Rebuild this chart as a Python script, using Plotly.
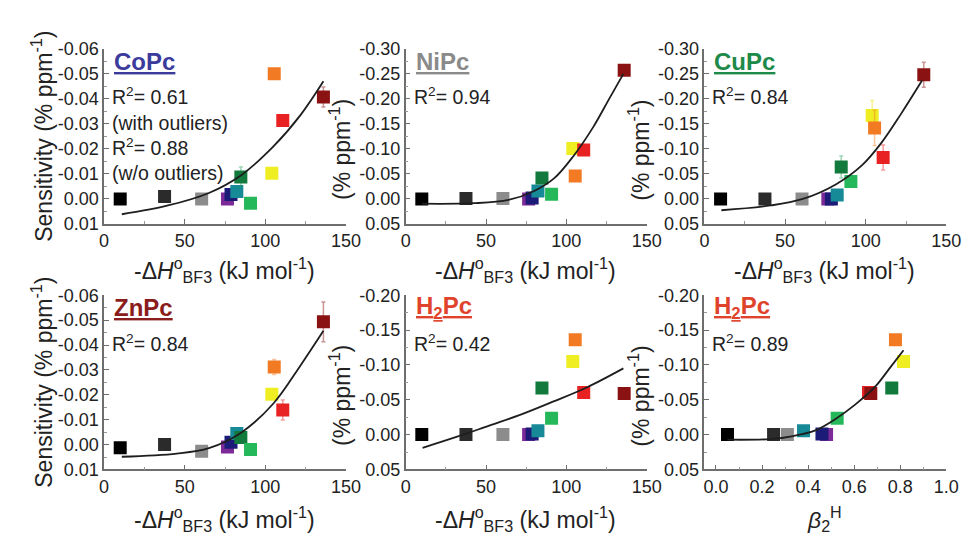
import plotly.graph_objects as go

# ---------------- data ----------------
point_colors = ["#000000", "#2b2b2b", "#8c8c8c", "#7b2a98", "#1c1c78", "#168a96",
                "#117a3c", "#25b85a", "#eeee22", "#f27a22", "#e82222", "#8a1212"]
err_colors = ["rgba(0,0,0,0.35)", "rgba(40,40,40,0.35)", "rgba(140,140,140,0.4)", "rgba(123,42,152,0.4)",
              "rgba(28,28,120,0.4)", "rgba(22,138,150,0.4)", "rgba(40,160,90,0.45)", "rgba(37,184,90,0.4)",
              "rgba(240,230,60,0.55)", "rgba(242,122,34,0.45)", "rgba(232,34,34,0.45)", "rgba(138,18,18,0.45)"]

dH_bf3 = [10, 37.5, 60.5, 76.5, 78.7, 82.3, 84.8, 90.8, 104, 105.5, 110.8, 136]
beta2H = [0.05, 0.25, 0.31, 0.48, 0.46, 0.38, 0.763, 0.526, 0.814, 0.779, 0.662, 0.672]

sens_CoPc = [0.000, -0.001, 0.000, 0.000, -0.0018, -0.003, -0.0088, 0.0017, -0.0103, -0.050, -0.0314, -0.0407]
sens_NiPc = [0.000, -0.001, -0.001, 0.000, -0.002, -0.016, -0.042, -0.0096, -0.101, -0.046, -0.098, -0.257]
sens_CuPc = [0.000, 0.000, 0.000, 0.000, 0.000, -0.0077, -0.064, -0.035, -0.1665, -0.142, -0.083, -0.248]
sens_ZnPc = [0.0013, 0.000, 0.0027, 0.001, -0.0009, -0.0044, -0.0028, 0.002, -0.0202, -0.0312, -0.0139, -0.0493]
sens_H2Pc = [0.000, 0.000, 0.000, 0.000, -0.001, -0.0055, -0.067, -0.0234, -0.105, -0.136, -0.0606, -0.059]

err_CoPc = [0, 0, 0, 0, 0, 0, 0.004, 0, 0, 0.002, 0, 0.004]
err_NiPc = [0, 0, 0, 0, 0, 0, 0.008, 0, 0.005, 0, 0.01, 0.01]
err_CuPc = [0, 0, 0, 0, 0, 0, 0.022, 0, 0.03, 0.035, 0.025, 0.025]
err_ZnPc = [0, 0, 0, 0, 0, 0, 0, 0, 0.002, 0.003, 0.004, 0.008]
err_H2Pc = [0, 0, 0, 0, 0, 0, 0, 0, 0, 0, 0, 0]

fit_CoPc_x = [11, 39, 65, 85, 105, 122, 136]
fit_CoPc_y = [0.0061, 0.0027, -0.0024, -0.0095, -0.021, -0.0337, -0.047]
fit_NiPc_x = [10, 42, 64, 80, 92.5, 104.6, 116.8, 127, 135.5]
fit_NiPc_y = [0.0095, 0.0085, 0.002, -0.016, -0.0415, -0.0865, -0.144, -0.202, -0.25]
fit_CuPc_x = [10.5, 41, 61, 81.4, 97.6, 109.7, 121.9, 135]
fit_CuPc_y = [0.0225, 0.013, 0.0, -0.029, -0.067, -0.112, -0.17, -0.237]
fit_ZnPc_x = [11, 45, 65, 85, 105, 122, 136]
fit_ZnPc_y = [0.0049, 0.0036, 0.0014, -0.0048, -0.0165, -0.032, -0.0457]
fit_H2Pc_x = [10.5, 32, 52, 72, 92.5, 113, 135.5]
fit_H2Pc_y = [0.019, 0.003, -0.013, -0.029, -0.048, -0.068, -0.095]
fit_H2Pc_b_x = [0.05, 0.235, 0.335, 0.434, 0.519, 0.604, 0.689, 0.76, 0.814]
fit_H2Pc_b_y = [0.0073, 0.0064, 0.002, -0.0065, -0.0225, -0.043, -0.068, -0.098, -0.121]

xticks_dH = [0, 50, 100, 150]
xticks_dH_text = ["0", "50", "100", "150"]
xticks_beta = [0.0, 0.2, 0.4, 0.6, 0.8, 1.0]
xticks_beta_text = ["0.0", "0.2", "0.4", "0.6", "0.8", "1.0"]
yticks_small = [0.01, 0.0, -0.01, -0.02, -0.03, -0.04, -0.05, -0.06]
yticks_small_text = ["0.01", "0.00", "-0.01", "-0.02", "-0.03", "-0.04", "-0.05", "-0.06"]
yticks_030 = [0.05, 0.0, -0.05, -0.10, -0.15, -0.20, -0.25, -0.30]
yticks_030_text = ["0.05", "0.00", "-0.05", "-0.10", "-0.15", "-0.20", "-0.25", "-0.30"]
yticks_020 = [0.05, 0.0, -0.05, -0.10, -0.15, -0.20]
yticks_020_text = ["0.05", "0.00", "-0.05", "-0.10", "-0.15", "-0.20"]

panel_labels = ["CoPc", "NiPc", "CuPc", "ZnPc", "H<sub>2</sub>Pc", "H<sub>2</sub>Pc"]
label_colors = ["#3b3b9c", "#8a8a8a", "#1d8a4a", "#8b1c1c", "#e0432c", "#e0432c"]
r2_texts = ["R<sup>2</sup>= 0.61<br>(with outliers)<br>R<sup>2</sup>= 0.88<br>(w/o outliers)",
            "R<sup>2</sup>= 0.94", "R<sup>2</sup>= 0.84", "R<sup>2</sup>= 0.84",
            "R<sup>2</sup>= 0.42", "R<sup>2</sup>= 0.89"]

# ---------------- layout helpers ----------------
W, H = 971, 535
FONT = "Liberation Sans, Arial, sans-serif"
AX = "#6e6e6e"
TXT = "#222222"


def fx(p):
    return p / W


def fy(p):
    return 1 - p / H


cols = [(93, 340), (401, 647), (706, 953)]
rows = [(32, 214), (288, 469)]

panels = [
    dict(c=0, r=0, x=dH_bf3, y=sens_CoPc, e=err_CoPc, fx=fit_CoPc_x, fy=fit_CoPc_y,
         xr=[0, 150], xt=xticks_dH, xtt=xticks_dH_text, xm=[25, 75, 125],
         yr=[0.01, -0.06], yt=yticks_small, ytt=yticks_small_text),
    dict(c=1, r=0, x=dH_bf3, y=sens_NiPc, e=err_NiPc, fx=fit_NiPc_x, fy=fit_NiPc_y,
         xr=[0, 150], xt=xticks_dH, xtt=xticks_dH_text, xm=[25, 75, 125],
         yr=[0.05, -0.30], yt=yticks_030, ytt=yticks_030_text),
    dict(c=2, r=0, x=dH_bf3, y=sens_CuPc, e=err_CuPc, fx=fit_CuPc_x, fy=fit_CuPc_y,
         xr=[0, 150], xt=xticks_dH, xtt=xticks_dH_text, xm=[25, 75, 125],
         yr=[0.05, -0.30], yt=yticks_030, ytt=yticks_030_text),
    dict(c=0, r=1, x=dH_bf3, y=sens_ZnPc, e=err_ZnPc, fx=fit_ZnPc_x, fy=fit_ZnPc_y,
         xr=[0, 150], xt=xticks_dH, xtt=xticks_dH_text, xm=[25, 75, 125],
         yr=[0.01, -0.06], yt=yticks_small, ytt=yticks_small_text),
    dict(c=1, r=1, x=dH_bf3, y=sens_H2Pc, e=err_H2Pc, fx=fit_H2Pc_x, fy=fit_H2Pc_y,
         xr=[0, 150], xt=xticks_dH, xtt=xticks_dH_text, xm=[25, 75, 125],
         yr=[0.05, -0.20], yt=yticks_020, ytt=yticks_020_text),
    dict(c=2, r=1, x=beta2H, y=sens_H2Pc, e=err_H2Pc, fx=fit_H2Pc_b_x, fy=fit_H2Pc_b_y,
         xr=[-0.05, 1.0], xt=xticks_beta, xtt=xticks_beta_text, xm=[0.1, 0.3, 0.5, 0.7, 0.9],
         yr=[0.05, -0.20], yt=yticks_020, ytt=yticks_020_text),
]

fig = go.Figure()
layout = dict(
    width=W, height=H, margin=dict(l=0, r=0, t=0, b=0),
    paper_bgcolor="white", plot_bgcolor="white", showlegend=False,
    font=dict(family=FONT, color=TXT),
)
annotations = []

for i, p in enumerate(panels):
    n = i + 1
    xa = "x" if n == 1 else f"x{n}"
    ya = "y" if n == 1 else f"y{n}"
    c0, c1 = cols[p["c"]]
    r0, r1 = rows[p["r"]]

    for j in range(len(p["x"])):
        ev = p["e"][j]
        fig.add_trace(go.Scatter(
            x=[p["x"][j]], y=[p["y"][j]], mode="markers", xaxis=xa, yaxis=ya,
            marker=dict(symbol="square", size=13, color=point_colors[j], line=dict(width=0)),
            error_y=dict(type="data", array=[ev], visible=ev > 0, color=err_colors[j],
                         thickness=1.5, width=2),
            hoverinfo="skip"))
    fig.add_trace(go.Scatter(
        x=p["fx"], y=p["fy"], mode="lines", xaxis=xa, yaxis=ya,
        line=dict(color="#1e1e1e", width=1.8, shape="spline", smoothing=1.0),
        hoverinfo="skip"))

    tickfont = dict(family=FONT, size=18, color=TXT)
    layout["xaxis" if n == 1 else f"xaxis{n}"] = dict(
        domain=[fx(c0), fx(c1)], range=p["xr"], anchor=ya,
        showline=True, linecolor=AX, linewidth=1.5, mirror=False,
        showgrid=False, zeroline=False,
        ticks="inside", ticklen=5, tickwidth=1.2, tickcolor=AX,
        tickmode="array", tickvals=p["xt"], ticktext=p["xtt"], tickfont=tickfont,
        minor=dict(ticks="inside", ticklen=3, tickcolor="#999999", tickvals=p["xm"]),
    )
    ym = [(a + b) / 2 for a, b in zip(p["yt"][:-1], p["yt"][1:])]
    layout["yaxis" if n == 1 else f"yaxis{n}"] = dict(
        domain=[fy(r1), fy(r0)], range=p["yr"], anchor=xa,
        showline=True, linecolor=AX, linewidth=1.5, mirror=False,
        showgrid=False, zeroline=False,
        ticks="inside", ticklen=5, tickwidth=1.2, tickcolor=AX,
        tickmode="array", tickvals=p["yt"], ticktext=p["ytt"], tickfont=tickfont,
        minor=dict(ticks="inside", ticklen=3, tickcolor="#999999", tickvals=ym),
    )

    # panel label (underlined, bold)
    annotations.append(dict(
        xref="paper", yref="paper", x=fx(c0 + 8), y=fy(r0 + 13), xanchor="left", yanchor="middle",
        text=f"<b><u>{panel_labels[i]}</u></b>", showarrow=False,
        font=dict(family=FONT, size=24, color=label_colors[i])))
    # R^2 text
    annotations.append(dict(
        xref="paper", yref="paper", x=fx(c0 + 6), y=fy(r0 + 35), xanchor="left", yanchor="top",
        text=r2_texts[i], showarrow=False, align="left",
        font=dict(family=FONT, size=19.5, color=TXT)))

    # y title
    cy = (r0 + r1) / 2
    if p["c"] == 0:
        ytxt = "Sensitivity (% ppm<sup>-1</sup>)"
        xpos = 30
    else:
        ytxt = "(% ppm<sup>-1</sup>)"
        xpos = c0 - 67
        cy = cy + 14
    annotations.append(dict(
        xref="paper", yref="paper", x=fx(xpos), y=fy(cy), xanchor="center", yanchor="middle",
        text=ytxt, textangle=-90, showarrow=False,
        font=dict(family=FONT, size=23, color=TXT)))

    # x title
    if n == 6:
        xt = "<i>β</i><sub>2</sub><sup>H</sup>"
    else:
        xt = "-Δ<i>H</i><sup>o</sup><sub>BF3</sub> (kJ mol<sup>-1</sup>)"
    xrow = 262 if p["r"] == 0 else 520
    annotations.append(dict(
        xref="paper", yref="paper", x=fx((c0 + c1) / 2 - 1), y=fy(xrow), xanchor="center", yanchor="middle",
        text=xt, showarrow=False,
        font=dict(family=FONT, size=23, color=TXT)))

layout["annotations"] = annotations
fig.update_layout(**layout)
fig.write_html("out.html")
